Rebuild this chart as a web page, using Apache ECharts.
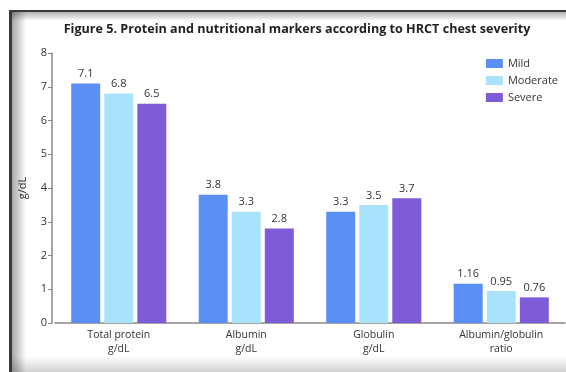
<!DOCTYPE html>
<html>
<head>
<meta charset="utf-8">
<script src="https://cdn.jsdelivr.net/npm/echarts@6/dist/echarts.min.js"></script>
<style>
  html, body { margin: 0; padding: 0; background: #fff; overflow: hidden; }
  #chart { position: absolute; left: 0; top: 0; width: 566px; height: 372px; }
</style>
</head>
<body>
<div id="chart"></div>
<script>
const categories = ['Total protein\ng/dL', 'Albumin\ng/dL', 'Globulin\ng/dL', 'Albumin/globulin\nratio'];
const seriesNames = ['Mild', 'Moderate', 'Severe'];
const mildValues = [7.1, 3.8, 3.3, 1.16];
const moderateValues = [6.8, 3.3, 3.5, 0.95];
const severeValues = [6.5, 2.8, 3.7, 0.76];
const colors = ['#5b8ff5', '#a9e3fb', '#7e5bd8'];

const font = 'Open Sans, Noto Sans, sans-serif';
const chart = echarts.init(document.getElementById('chart'), null, { renderer: 'canvas' });

const makeSeries = (name, data, color) => ({
  name: name,
  type: 'bar',
  data: data,
  barWidth: 29,
  barGap: '14%',
  itemStyle: { color: color },
  label: {
    show: true,
    position: 'top',
    distance: 4,
    color: '#333',
    fontSize: 11,
    fontFamily: font
  }
});

// Shaded panel frame: dark top and left edges fading inward, soft shade at the bottom
const shade = (x, y, x2, y2, a0, a1) => ({
  type: 'linear', x: x, y: y, x2: x2, y2: y2,
  colorStops: [{ offset: 0, color: 'rgba(0,0,0,' + a0 + ')' }, { offset: 1, color: 'rgba(0,0,0,' + a1 + ')' }]
});
const frame = [
  { type: 'rect', silent: true, z: -1, shape: { x: 12, y: 12, width: 14, height: 360 }, style: { fill: shade(0, 0, 1, 0, 0.35, 0) } },
  { type: 'rect', silent: true, z: -1, shape: { x: 12, y: 12, width: 554, height: 9 }, style: { fill: shade(0, 0, 0, 1, 0.3, 0) } },
  { type: 'rect', silent: true, z: -1, shape: { x: 12, y: 356, width: 554, height: 16 }, style: { fill: shade(0, 0, 0, 1, 0, 0.18) } },
  { type: 'rect', silent: true, z: 0, shape: { x: 9, y: 10, width: 557, height: 2 }, style: { fill: '#3a3a3a' } },
  { type: 'rect', silent: true, z: 0, shape: { x: 9, y: 10, width: 3, height: 362 }, style: { fill: '#3a3a3a' } }
];

chart.setOption({
  animation: false,
  backgroundColor: '#fff',
  graphic: frame,
  title: {
    text: 'Figure 5. Protein and nutritional markers according to HRCT chest severity',
    left: 292,
    textAlign: 'center',
    top: 18,
    textStyle: { fontSize: 12.6, fontWeight: 'bold', color: '#222', fontFamily: font }
  },
  legend: {
    orient: 'vertical',
    right: 3,
    top: 53,
    itemWidth: 17,
    itemHeight: 9,
    itemGap: 6,
    icon: 'rect',
    textStyle: { fontSize: 11, color: '#333', fontFamily: font },
    data: seriesNames
  },
  grid: { left: 55, right: 1, top: 53, bottom: 49 },
  xAxis: {
    type: 'category',
    data: categories,
    axisLine: { lineStyle: { color: '#888', width: 1.5 } },
    axisTick: { show: false },
    axisLabel: { fontSize: 10.5, color: '#333', fontFamily: font, lineHeight: 14, margin: 5 }
  },
  yAxis: {
    type: 'value',
    min: 0,
    max: 8,
    interval: 1,
    offset: 3,
    name: 'g/dL',
    nameLocation: 'middle',
    nameGap: 24,
    nameTextStyle: { fontSize: 11, color: '#333', fontFamily: font },
    axisLine: { show: true, lineStyle: { color: '#888', width: 1.5 } },
    axisTick: { show: true, length: 4, lineStyle: { color: '#888' } },
    splitLine: { show: false },
    axisLabel: { fontSize: 11, color: '#333', fontFamily: font, margin: 5 }
  },
  series: [
    makeSeries(seriesNames[0], mildValues, colors[0]),
    makeSeries(seriesNames[1], moderateValues, colors[1]),
    makeSeries(seriesNames[2], severeValues, colors[2])
  ]
});
</script>
</body>
</html>
